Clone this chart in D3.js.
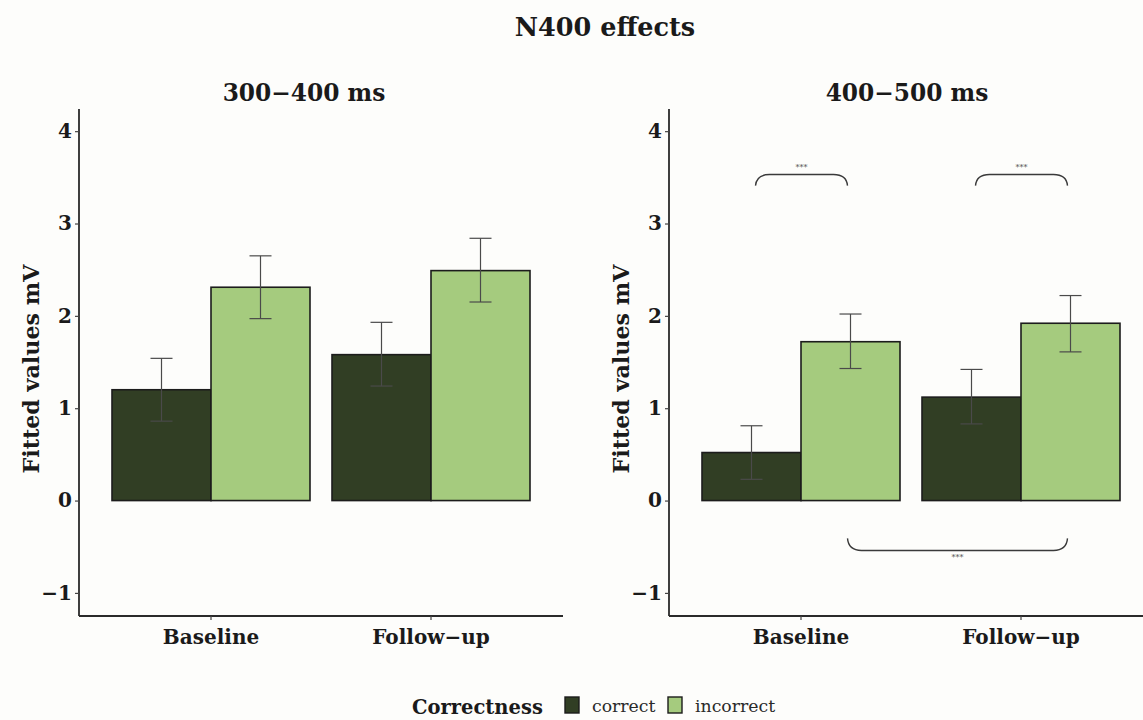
<!DOCTYPE html>
<html><head><meta charset="utf-8">
<script src="https://cdn.jsdelivr.net/npm/d3@7"></script>
<style>body{margin:0;background:#fdfdfb}svg{display:block}text{font-family:"DejaVu Serif",serif}</style>
</head><body>
<svg id="c" width="1143" height="720"></svg>
<script>
const categories = ["Baseline", "Follow\u2212up"];
const groups = ["correct", "incorrect"];
const panels = ["300\u2212400 ms", "400\u2212500 ms"];
// values per panel: [Baseline correct, Baseline incorrect, Follow-up correct, Follow-up incorrect]
const panel1Values = [1.20, 2.31, 1.58, 2.49];
const panel1Low    = [0.86, 1.97, 1.24, 2.15];
const panel1High   = [1.54, 2.65, 1.93, 2.84];
const panel2Values = [0.52, 1.72, 1.12, 1.92];
const panel2Low    = [0.23, 1.43, 0.83, 1.61];
const panel2High   = [0.81, 2.02, 1.42, 2.22];
const yTicks = [-1, 0, 1, 2, 3, 4];
const brackets = [
  {from: ["Baseline","correct"], to: ["Baseline","incorrect"], line: 3.53, tip: 3.41, label: "***", up: true},
  {from: ["Follow\u2212up","correct"], to: ["Follow\u2212up","incorrect"], line: 3.53, tip: 3.41, label: "***", up: true},
  {from: ["Baseline","incorrect"], to: ["Follow\u2212up","incorrect"], line: -0.54, tip: -0.41, label: "***", up: false}
];
const colors = {correct: "#313e24", incorrect: "#a5cb7e"};

const svg = d3.select("#c");
svg.append("rect").attr("width",1143).attr("height",720).attr("fill","#fdfdfb");

svg.append("text").attr("x",605).attr("y",36).attr("text-anchor","middle")
  .attr("font-size",25.5).attr("font-weight","bold").attr("fill","#1a1a1a").text("N400 effects");

const y = d3.scaleLinear().domain([-1.25, 4.24]).range([616, 109]);

const panelDefs = [
  {title: panels[0], x0: 79, x1: 563, titleX: 304, labelX: 39, vals: panel1Values, lo: panel1Low, hi: panel1High, br: [], inset: []},
  {title: panels[1], x0: 669, x1: 1153, titleX: 907, labelX: 629, vals: panel2Values, lo: panel2Low, hi: panel2High, br: brackets, inset: [[4,-3],[4,-3],[-3,-3]]}
];

panelDefs.forEach(p => {
  const g = svg.append("g");
  const x = d3.scaleBand().domain(categories).range([p.x0, p.x1]).paddingInner(0).paddingOuter(0.1);
  const step = x.bandwidth();
  const xs = d3.scaleBand().domain(groups).range([0.05*step, 0.95*step]);

  g.append("text").attr("x",p.titleX).attr("y",101).attr("text-anchor","middle")
    .attr("font-size",23.3).attr("font-weight","bold").attr("fill","#1a1a1a").text(p.title);

  const data = [];
  categories.forEach((c,i)=>groups.forEach((gr,j)=>{
    const k=i*2+j; data.push({c, gr, v:p.vals[k], lo:p.lo[k], hi:p.hi[k]});
  }));

  g.selectAll("rect.bar").data(data).join("rect").attr("class","bar")
    .attr("x",d=>x(d.c)+xs(d.gr)).attr("width",xs.bandwidth())
    .attr("y",d=>y(Math.max(0,d.v))).attr("height",d=>Math.abs(y(d.v)-y(0)))
    .attr("fill",d=>colors[d.gr]).attr("stroke","#1c1c1c").attr("stroke-width",1.6);

  const cap = 0.05*step;
  const cx = d=>x(d.c)+xs(d.gr)+xs.bandwidth()/2;
  const eb = g.selectAll("g.eb").data(data).join("g").attr("class","eb")
    .attr("stroke","#4a4a4a").attr("stroke-width",1.2).attr("fill","none");
  eb.append("line").attr("x1",cx).attr("x2",cx).attr("y1",d=>y(d.lo)).attr("y2",d=>y(d.hi));
  eb.append("line").attr("x1",d=>cx(d)-cap).attr("x2",d=>cx(d)+cap).attr("y1",d=>y(d.lo)).attr("y2",d=>y(d.lo));
  eb.append("line").attr("x1",d=>cx(d)-cap).attr("x2",d=>cx(d)+cap).attr("y1",d=>y(d.hi)).attr("y2",d=>y(d.hi));

  // axes
  const ya = g.append("g").attr("transform",`translate(${p.x0},0)`)
    .call(d3.axisLeft(y).tickValues(yTicks).tickSize(4).tickPadding(3).tickFormat(d=>d<0?"\u2212"+Math.abs(d):d));
  ya.select(".domain").attr("d",`M0,${y(4.24)}V${y(-1.25)}`).attr("stroke","#2a2a2a").attr("stroke-width",1.8);
  ya.selectAll(".tick line").attr("stroke","#444").attr("stroke-width",1.2);
  ya.selectAll(".tick text").attr("font-size",20).attr("font-weight","bold").attr("fill","#1a1a1a")
    .attr("font-family","DejaVu Serif");

  const xa = g.append("g").attr("transform",`translate(0,${y(-1.25)})`)
    .call(d3.axisBottom(x).tickSize(4).tickPadding(6));
  xa.select(".domain").attr("d",`M${p.x0},0H${p.x1}`).attr("stroke","#2a2a2a").attr("stroke-width",1.8);
  xa.selectAll(".tick line").attr("stroke","#444").attr("stroke-width",1.2);
  xa.selectAll(".tick text").attr("font-size",20).attr("font-weight","bold").attr("fill","#1a1a1a")
    .attr("font-family","DejaVu Serif").attr("dy","0.9em");

  g.append("text").attr("transform",`translate(${p.labelX},369) rotate(-90)`).attr("text-anchor","middle")
    .attr("font-size",22.2).attr("font-weight","bold").attr("fill","#1a1a1a").text("Fitted values mV");

  // significance brackets
  p.br.forEach((b,i)=>{
    const xa1 = x(b.from[0])+xs(b.from[1])+xs.bandwidth()/2+p.inset[i][0];
    const xa2 = x(b.to[0])+xs(b.to[1])+xs.bandwidth()/2+p.inset[i][1];
    const yl = y(b.line), yt = y(b.tip), r = 14;
    g.append("path").attr("d",`M${xa1},${yt} Q${xa1+1},${yl} ${xa1+r},${yl} L${xa2-r},${yl} Q${xa2-1},${yl} ${xa2},${yt}`)
      .attr("fill","none").attr("stroke","#3a3a3a").attr("stroke-width",1.4);
    g.append("text").attr("x",(xa1+xa2)/2).attr("y", b.up ? yl-5 : yl+10).attr("text-anchor","middle")
      .attr("font-size",8).attr("fill","#444").text(b.label);
  });
});

// legend
const lg = svg.append("g");
lg.append("text").attr("x",412).attr("y",714).attr("font-size",19.5).attr("font-weight","bold").attr("fill","#1a1a1a").text("Correctness");
const lx = [565, 668];
groups.forEach((gr,i)=>{
  lg.append("rect").attr("x",lx[i]).attr("y",697).attr("width",14).attr("height",16)
    .attr("fill",colors[gr]).attr("stroke","#1c1c1c").attr("stroke-width",1.4);
  lg.append("text").attr("x",lx[i]+27).attr("y",712).attr("font-size",17.3).attr("fill","#2a2a2a").text(gr);
});
</script>
</body></html>
